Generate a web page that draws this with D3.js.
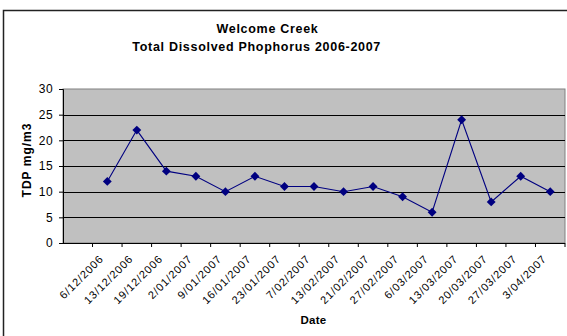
<!DOCTYPE html>
<html><head><meta charset="utf-8">
<script src="https://cdn.jsdelivr.net/npm/d3@7"></script>
<style>body{margin:0;background:#fff}svg{display:block}text{font-family:"Liberation Sans",Arial,sans-serif}</style>
</head><body><svg id="c" width="567" height="336"></svg>
<script>
const categories = ["", "6/12/2006","13/12/2006","19/12/2006","2/01/2007","9/01/2007","16/01/2007","23/01/2007","7/02/2007","13/02/2007","21/02/2007","27/02/2007","6/03/2007","13/03/2007","20/03/2007","27/03/2007","3/04/2007"];
const tdp = [12,22,14,13,10,13,11,11,10,11,9,6,24,8,13,10];
const yTicks = [0,5,10,15,20,25,30];

const svg = d3.select("#c");
const L = 63, R = 565, T = 89, B = 243;
svg.append("rect").attr("x",3.5).attr("y",10.5).attr("width",600).attr("height",400)
  .attr("fill","#fff").attr("stroke","#222").attr("stroke-width",1.5);

const x = d3.scaleBand().domain(categories.map((c,i)=>i)).range([L,R]).padding(0);
const y = d3.scaleLinear().domain([0,30]).range([B,T]);

svg.append("rect").attr("x",L).attr("y",T).attr("width",R-L).attr("height",B-T)
  .attr("fill","#C0C0C0").attr("stroke","#808080").attr("stroke-width",1);

svg.append("g").selectAll("line").data(yTicks.slice(1,-1)).join("line")
  .attr("x1",L).attr("x2",R).attr("y1",d=>Math.round(y(d))+0.5).attr("y2",d=>Math.round(y(d))+0.5)
  .attr("stroke","#000").attr("stroke-width",1);

const ya = svg.append("g").attr("transform",`translate(${L},0)`)
  .call(d3.axisLeft(y).tickValues(yTicks).tickSize(4).tickPadding(6));
ya.select(".domain").attr("stroke","#000");
ya.selectAll("text").attr("font-size",12).attr("letter-spacing",0.4).attr("fill","#000");

const xa = svg.append("g").attr("transform",`translate(0,${B})`)
  .call(d3.axisBottom(x).tickValues(d3.range(1, categories.length+1)).tickSize(4).tickFormat(""));
xa.selectAll(".tick").attr("transform",d=>`translate(${x(0)+x.bandwidth()*d},0)`);
xa.select(".domain").remove();
svg.append("line").attr("x1",L).attr("x2",R).attr("y1",B+0.5).attr("y2",B+0.5).attr("stroke","#000");

svg.append("g").selectAll("text").data(categories).join("text")
  .attr("transform",(d,i)=>`translate(${x(i)+x.bandwidth()/2-3},${B+16.5}) rotate(-45)`)
  .attr("text-anchor","end").attr("font-size",11).attr("letter-spacing",0.9).attr("fill","#000").text(d=>d);

const px = i => x(i+1)+x.bandwidth()/2;
svg.append("path").datum(tdp)
  .attr("d", d3.line().x((d,i)=>px(i)).y(d=>y(d)))
  .attr("fill","none").attr("stroke","#000080").attr("stroke-width",1.1);
svg.append("g").selectAll("path").data(tdp).join("path")
  .attr("transform",(d,i)=>`translate(${px(i)},${y(d)})`)
  .attr("d", d3.symbol(d3.symbolDiamond2, 50)).attr("fill","#000080");

svg.append("text").attr("x",267.5).attr("y",33).attr("text-anchor","middle").attr("font-size",12.5).attr("letter-spacing",0.7).attr("font-weight","bold").text("Welcome Creek");
svg.append("text").attr("x",256.7).attr("y",51).attr("text-anchor","middle").attr("font-size",12.5).attr("letter-spacing",0.7).attr("font-weight","bold").text("Total Dissolved Phophorus 2006-2007");
svg.append("text").attr("transform","translate(31,160) rotate(-90)").attr("text-anchor","middle").attr("font-size",12).attr("letter-spacing",1).attr("font-weight","bold").text("TDP mg/m3");
svg.append("text").attr("x",313.5).attr("y",324).attr("text-anchor","middle").attr("font-size",11.5).attr("letter-spacing",0.3).attr("font-weight","bold").text("Date");
</script></body></html>
